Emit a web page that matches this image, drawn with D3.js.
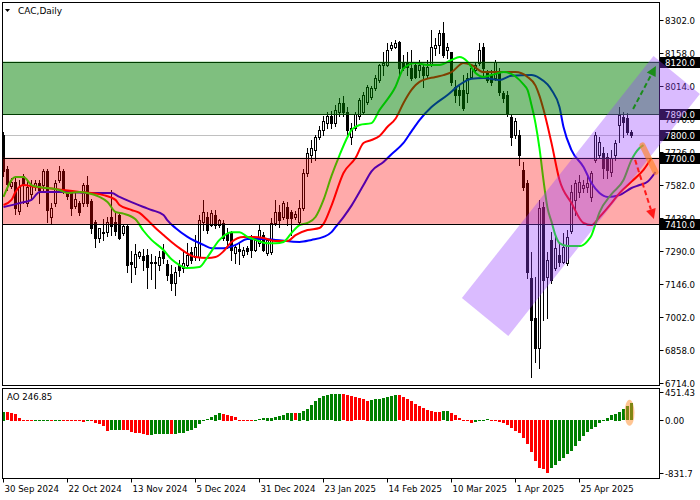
<!DOCTYPE html>
<html><head><meta charset="utf-8">
<script src="https://cdn.jsdelivr.net/npm/d3@7"></script>
<style>body{margin:0;background:#fff}svg{display:block}text{font-family:"DejaVu Sans",sans-serif}</style>
</head><body><svg id="c" width="700" height="500"></svg>
<script>
// ---------- DATA ----------
const openP  = [7800,7650,7575,7595,7465,7620,7500,7540,7575,7590,7580,7640,7440,7500,7600,7640,7545,7545,7490,7500,7500,7580,7510,7420,7350,7375,7375,7440,7420,7450,7370,7400,7245,7220,7270,7270,7275,7245,7240,7230,7290,7235,7190,7150,7230,7217,7230,7287,7265,7265,7418,7440,7405,7449,7405,7414,7370,7370,7283,7300,7274,7305,7348,7296,7325,7361,7283,7287,7414,7462,7440,7484,7460,7440,7418,7479,7633,7711,7733,7790,7821,7850,7880,7850,7900,7940,7900,7790,7830,7880,7901,7945,7966,8003,8040,8105,8105,8178,8185,8207,8120,8120,8091,8105,8083,8098,8061,8105,8178,8193,8244,8171,8163,8010,7996,7996,7981,8054,8083,8112,8185,8069,8061,8047,8069,7981,7975,7879,7800,7800,7646,7590,7173,6998,6867,7484,7178,7340,7217,7274,7243,7239,7380,7515,7550,7567,7570,7528,7690,7711,7720,7703,7637,7711,7843,7879,7875,7812];
const highP  = [7810,7665,7610,7610,7600,7630,7600,7600,7600,7600,7650,7650,7500,7600,7665,7650,7555,7550,7550,7510,7590,7620,7520,7425,7390,7430,7440,7560,7460,7460,7410,7410,7290,7320,7290,7300,7300,7280,7270,7290,7320,7250,7230,7220,7252,7296,7325,7309,7361,7449,7515,7460,7470,7470,7430,7425,7392,7380,7320,7330,7310,7315,7361,7345,7405,7375,7345,7436,7515,7493,7510,7505,7470,7465,7515,7650,7740,7777,7800,7840,7880,7900,7905,7930,7960,7970,7920,7850,7900,7960,7985,8018,8015,8060,8110,8163,8200,8207,8215,8210,8149,8163,8171,8120,8127,8105,8127,8258,8222,8258,8295,8200,8163,8040,8018,8061,8069,8105,8120,8200,8200,8083,8083,8127,8091,7990,7990,7890,7875,7820,7680,7600,7287,7178,7515,7506,7287,7374,7353,7320,7370,7383,7580,7600,7625,7600,7620,7640,7812,7790,7745,7720,7733,7777,7920,7900,7895,7820];
const lowP   = [7620,7560,7565,7455,7455,7500,7490,7520,7560,7500,7560,7420,7410,7490,7595,7545,7520,7450,7480,7450,7490,7490,7370,7310,7330,7340,7355,7360,7360,7345,7360,7200,7155,7190,7260,7210,7130,7170,7130,7210,7240,7165,7120,7100,7180,7200,7215,7239,7250,7252,7383,7370,7400,7390,7395,7340,7305,7252,7240,7235,7265,7280,7265,7290,7315,7290,7275,7280,7405,7396,7430,7405,7361,7430,7410,7470,7620,7680,7690,7780,7800,7830,7830,7840,7880,7880,7800,7760,7820,7870,7890,7935,7955,7995,8030,8060,8100,8171,8178,8061,8083,8061,8040,8047,8054,8010,8054,8100,8149,8156,8141,8134,8018,7945,7930,7908,7945,8047,8075,8105,8054,8032,8018,8040,7974,7945,7880,7755,7785,7668,7558,7173,6740,6806,6780,6990,6998,7150,7208,7225,7239,7230,7370,7450,7528,7550,7550,7510,7680,7700,7611,7611,7620,7690,7770,7790,7805,7790];
const closeP = [7640,7585,7595,7480,7570,7580,7570,7580,7590,7560,7640,7470,7480,7590,7640,7560,7530,7480,7520,7460,7580,7500,7390,7350,7390,7370,7420,7400,7380,7350,7400,7230,7235,7280,7285,7250,7220,7240,7245,7265,7260,7185,7150,7200,7208,7239,7274,7252,7309,7427,7462,7383,7458,7405,7425,7348,7340,7296,7309,7290,7296,7290,7296,7340,7383,7296,7340,7414,7462,7427,7501,7436,7436,7455,7479,7633,7720,7742,7790,7821,7860,7880,7850,7910,7940,7900,7820,7830,7890,7950,7974,8010,8003,8047,8105,8112,8171,8193,8200,8091,8091,8098,8047,8054,8105,8061,8098,8185,8193,8244,8149,8185,8032,7974,7974,7915,8047,8091,8105,8171,8091,8040,8032,8120,7988,7960,7895,7790,7860,7711,7571,7200,6990,6867,7480,7165,7252,7165,7303,7245,7309,7353,7550,7589,7594,7580,7590,7633,7799,7768,7655,7646,7698,7764,7886,7857,7812,7800];
const aoValues = [124,120,112,95,40,14,-5,-12,-10,-8,-7,-6,-7,-6,5,4,2,-3,-10,-18,-22,-15,-20,-38,-60,-86,-160,-145,-140,-138,-140,-145,-165,-180,-190,-200,-212,-208,-205,-200,-197,-196,-205,-195,-188,-180,-160,-140,-110,-60,-5,20,45,80,105,100,85,65,45,10,-3,-5,-6,2,20,35,38,40,50,62,78,105,110,105,108,130,170,220,275,320,345,365,375,380,382,378,366,352,333,318,304,285,295,309,314,323,342,356,366,360,342,304,280,238,214,185,152,138,124,122,135,140,109,76,33,10,-19,-38,-29,-15,5,18,10,-5,-24,-38,-76,-109,-157,-181,-252,-347,-456,-594,-689,-703,-765,-690,-640,-590,-545,-490,-440,-375,-300,-230,-175,-135,-95,-45,5,40,75,100,125,160,205,247];
// Alligator lines: [bar index, price]
const lipsLine = [[0,7528],[3,7615],[5,7615],[7,7580],[9,7571],[14,7558],[16,7545],[19,7550],[21,7545],[24,7528],[26,7506],[28,7462],[30,7455],[33,7430],[35,7380],[37,7340],[40,7296],[42,7255],[44,7230],[46,7217],[49,7221],[51,7265],[54,7340],[57,7374],[59,7374],[61,7353],[63,7340],[66,7325],[68,7325],[70,7331],[72,7370],[74,7405],[76,7414],[78,7440],[80,7515],[82,7620],[84,7710],[86,7790],[87,7821],[89,7843],[92,7851],[94,7908],[98,8010],[100,8090],[103,8114],[106,8105],[109,8105],[112,8127],[114,8140],[116,8120],[118,8070],[120,8053],[122,8061],[125,8074],[128,8055],[130,8020],[131,7996],[132,7930],[133,7850],[134,7740],[135,7600],[136,7480],[137,7420],[138,7360],[139,7326],[141,7313],[144,7313],[146,7335],[147,7360],[148,7410],[149,7460],[152,7540],[155,7602],[157,7690],[159,7742],[160,7755]];
const teethLine = [[0,7493],[2,7515],[3,7550],[5,7580],[8,7571],[11,7567],[15,7558],[19,7550],[22,7545],[25,7536],[28,7515],[29,7493],[32,7471],[34,7458],[36,7427],[38,7392],[40,7361],[42,7331],[44,7304],[48,7265],[51,7261],[53,7265],[55,7290],[57,7331],[60,7353],[62,7353],[65,7348],[68,7335],[71,7335],[73,7361],[76,7383],[79,7392],[80,7410],[82,7490],[85,7633],[88,7698],[90,7764],[92,7777],[94,7795],[96,7835],[98,7870],[100,7939],[102,7996],[104,8031],[108,8053],[110,8061],[112,8074],[115,8114],[117,8105],[120,8074],[124,8074],[128,8074],[131,8053],[133,8015],[134,7970],[135,7910],[136,7840],[137,7764],[139,7602],[142,7501],[145,7414],[147,7405],[149,7440],[152,7501],[154,7545],[157,7595],[160,7646],[162,7698]];
const jawLine = [[0,7484],[4,7501],[7,7515],[9,7550],[16,7550],[22,7545],[27,7545],[29,7528],[32,7505],[35,7484],[37,7471],[40,7449],[41,7425],[43,7392],[46,7353],[50,7318],[52,7304],[55,7304],[58,7318],[61,7344],[65,7344],[68,7340],[74,7331],[77,7340],[80,7353],[82,7374],[83,7396],[85,7440],[87,7490],[90,7580],[92,7640],[95,7681],[97,7715],[100,7764],[102,7815],[104,7864],[107,7921],[111,7974],[114,8018],[117,8045],[120,8048],[124,8040],[127,8058],[132,8061],[134,8048],[136,8020],[137,7996],[139,7921],[140,7834],[142,7733],[145,7659],[147,7589],[149,7545],[151,7528],[154,7536],[157,7567],[159,7580],[161,7594],[163,7637]];
const priceTicks = [8302,8158,8014,7870,7726,7582,7438,7290,7146,7002,6858,6714];
const aoTicks = [451.43,0,-831.7];
const aoTickLabels = ["451.43","0.00","-831.7"];
const dateIdx = [0,16,32,48,64,80,96,112,128,144];
const dateLabels = ["30 Sep 2024","22 Oct 2024","13 Nov 2024","5 Dec 2024","31 Dec 2024","23 Jan 2025","14 Feb 2025","10 Mar 2025","1 Apr 2025","25 Apr 2025"];
const greenZone = [7890,8120];
const pinkZone = [7410,7700];
const levelLabels = [8120,7890,7800,7700,7410];
const currentPrice = 7800;
const channelPts = [[114.6,7086],[162.5,8144],[174.1,7978],[126.2,6920]];
const upArrow = [[157.4,7913],[163.1,8101]];
const downArrow = [[157.9,7690],[162.6,7431]];
const orangeMark = [[159.75,7753],[163,7637]];
const aoLabel = "AO 246.85";
const title = "CAC,Daily";

// ---------- SCALES ----------
const svg = d3.select("#c");
const L = 2.5, R = 659.5, T = 2.5, MB = 385.5, AT = 388.5, AB = 478.5;
const x = d3.scaleLinear().domain([0,1]).range([3.5,7.5]);
const y = d3.scaleLinear().domain([6714,8302]).range([383,20]);
const ya = d3.scaleLinear().domain([-831.7,451.43]).range([478.5,389]);
const snap = v => Math.round(v) + 0.5;

svg.append("rect").attr("width",700).attr("height",500).attr("fill","#fff");
const defs = svg.append("defs");
defs.append("clipPath").attr("id","cm").append("rect").attr("x",L).attr("y",T).attr("width",R-L).attr("height",MB-T);
defs.append("clipPath").attr("id","ca").append("rect").attr("x",L).attr("y",AT).attr("width",R-L).attr("height",AB-AT);

const main = svg.append("g").attr("clip-path","url(#cm)");
// current price line
main.append("line").attr("x1",L).attr("x2",R).attr("y1",snap(y(currentPrice))).attr("y2",snap(y(currentPrice))).attr("stroke","#c0c0c0");

// candles
const idx = d3.range(closeP.length);
const cg = main.append("g");
idx.forEach(i => {
  const cx = x(i);
  cg.append("line").attr("x1",cx).attr("x2",cx).attr("y1",Math.round(y(highP[i]))).attr("y2",Math.round(y(lowP[i]))+1).attr("stroke","#000");
  const yo = Math.round(y(openP[i])), yc = Math.round(y(closeP[i]));
  const top = Math.min(yo,yc), h = Math.max(Math.abs(yo-yc),0);
  cg.append("rect").attr("x",cx-1).attr("y",top+0.5).attr("width",2).attr("height",h)
    .attr("fill", closeP[i] >= openP[i] ? "#fff" : "#000").attr("stroke","#000");
});

// alligator lines
const lg = d3.line().x(d => x(d[0])).y(d => y(d[1])).curve(d3.curveMonotoneX);
[[jawLine,"#0000ff"],[teethLine,"#ff0000"],[lipsLine,"#00ff00"]].forEach(([d,c]) => {
  main.append("path").attr("d",lg(d)).attr("fill","none").attr("stroke",c).attr("stroke-width",2);
});

// zones (semi-transparent)
main.append("rect").attr("x",L).attr("width",R-L).attr("y",y(pinkZone[1])).attr("height",y(pinkZone[0])-y(pinkZone[1]))
  .attr("fill","rgb(255,0,0)").attr("fill-opacity",0.333);
main.append("rect").attr("x",L).attr("width",R-L).attr("y",y(greenZone[1])).attr("height",y(greenZone[0])-y(greenZone[1]))
  .attr("fill","rgb(0,128,0)").attr("fill-opacity",0.5);
greenZone.forEach(v => main.append("line").attr("x1",L).attr("x2",R).attr("y1",snap(y(v))).attr("y2",snap(y(v))).attr("stroke","#003c00"));
pinkZone.forEach(v => main.append("line").attr("x1",L).attr("x2",R).attr("y1",snap(y(v))).attr("y2",snap(y(v))).attr("stroke","#000"));

// AO
const ag = svg.append("g").attr("clip-path","url(#ca)");
aoValues.forEach((v,i) => {
  const up = i === 0 || v > aoValues[i-1];
  const y0 = ya(0), y1 = ya(v);
  ag.append("rect").attr("x",x(i)-1.5).attr("width",3).attr("y",Math.round(Math.min(y0,y1))).attr("height",Math.max(1,Math.round(Math.abs(y1-y0))))
    .attr("fill", up ? "#008000" : "#ff0000");
});

// panel frames
svg.append("rect").attr("x",L).attr("y",T).attr("width",R-L).attr("height",MB-T).attr("fill","none").attr("stroke","#000");
svg.append("rect").attr("x",L).attr("y",AT).attr("width",R-L).attr("height",AB-AT).attr("fill","none").attr("stroke","#000");

// right axis
const ax = svg.append("g");
priceTicks.forEach(v => {
  const yy = snap(y(v));
  ax.append("line").attr("x1",R).attr("x2",R+4).attr("y1",yy).attr("y2",yy).attr("stroke","#000");
  ax.append("text").attr("x",665).attr("y",yy+3).attr("font-size",8.6).attr("fill","#000").text(v.toFixed(1));
});
aoTicks.forEach((v,k) => {
  const yy = snap(ya(v));
  const ty = k===0 ? yy+6 : (k===2 ? yy-3 : yy+3);
  ax.append("line").attr("x1",R).attr("x2",R+4).attr("y1",ty-3).attr("y2",ty-3).attr("stroke","#000");
  ax.append("text").attr("x",665).attr("y",ty).attr("font-size",8.6).attr("fill","#000").text(aoTickLabels[k]);
});
levelLabels.forEach(v => {
  const yy = y(v);
  ax.append("rect").attr("x",660).attr("y",Math.round(yy)-5).attr("width",40).attr("height",11).attr("fill","#000");
  ax.append("text").attr("x",665).attr("y",Math.round(yy)+4).attr("font-size",8.6).attr("fill","#fff").text(v.toFixed(1));
});

// date axis
dateIdx.forEach((di,k) => {
  const xx = Math.round(x(di)) - 0.5;
  svg.append("line").attr("x1",xx).attr("x2",xx).attr("y1",AB).attr("y2",AB+4).attr("stroke","#000");
  svg.append("text").attr("x",xx+1).attr("y",492).attr("font-size",8.6).attr("fill","#000").text(dateLabels[k]);
});

// titles
svg.append("path").attr("d","M5,9 L10,9 L7.5,12 Z").attr("fill","#000");
svg.append("text").attr("x",18).attr("y",14).attr("font-size",9).attr("fill","#000").text(title);
svg.append("text").attr("x",7).attr("y",400).attr("font-size",8.6).attr("fill","#000").text(aoLabel);

// AO highlight
svg.append("ellipse").attr("cx",(x(156)+x(157))/2).attr("cy",(ya(0)+ya(aoValues[157]))/2+1).attr("rx",5).attr("ry",13)
  .attr("fill","rgb(255,140,40)").attr("fill-opacity",0.5);

// channel
svg.append("path").attr("d", d3.line().x(d=>x(d[0])).y(d=>y(d[1]))(channelPts)+"Z")
  .attr("fill","rgb(150,60,255)").attr("fill-opacity",0.35);

// orange mark
svg.append("line").attr("x1",x(orangeMark[0][0])).attr("y1",y(orangeMark[0][1])).attr("x2",x(orangeMark[1][0])).attr("y2",y(orangeMark[1][1]))
  .attr("stroke","rgb(255,130,40)").attr("stroke-opacity",0.65).attr("stroke-width",6).attr("stroke-linecap","round");

// arrows
function arrow(pts, color){
  const [a,b] = pts.map(p => [x(p[0]), y(p[1])]);
  const ang = Math.atan2(b[1]-a[1], b[0]-a[0]);
  const hl = 10, hw = 5;
  const bx = b[0]-hl*Math.cos(ang), by = b[1]-hl*Math.sin(ang);
  svg.append("line").attr("x1",a[0]).attr("y1",a[1]).attr("x2",bx).attr("y2",by)
    .attr("stroke",color).attr("stroke-width",2).attr("stroke-dasharray","5,3");
  const p1 = [bx + hw*Math.sin(ang), by - hw*Math.cos(ang)];
  const p2 = [bx - hw*Math.sin(ang), by + hw*Math.cos(ang)];
  svg.append("path").attr("d",`M${b[0]},${b[1]}L${p1[0]},${p1[1]}L${p2[0]},${p2[1]}Z`).attr("fill",color);
}
arrow(upArrow, "#1a8c1a");
arrow(downArrow, "#ff1a1a");
</script></body></html>
